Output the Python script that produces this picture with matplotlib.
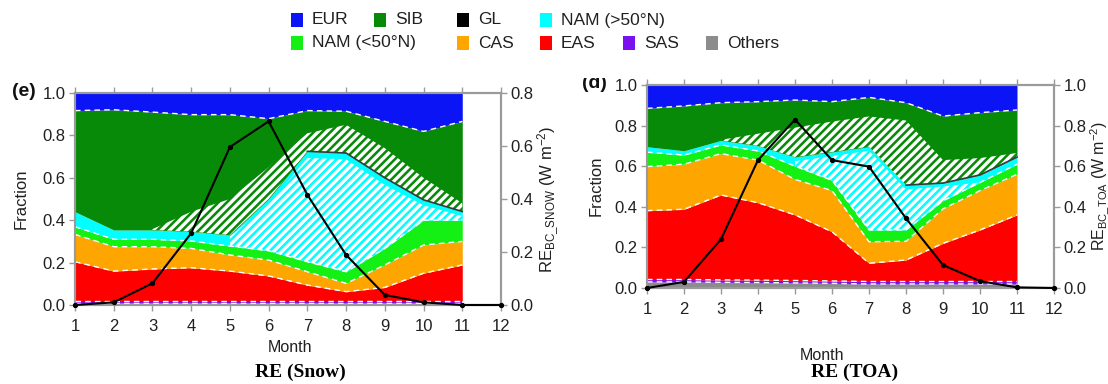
import numpy as np
import matplotlib
matplotlib.use("Agg")
import matplotlib.pyplot as plt
from matplotlib import font_manager
from matplotlib.patches import Rectangle

# ---------------- data ----------------
months = np.arange(1, 12)          # months with fractions
line_months = np.arange(1, 13)     # months with RE values
xticks = list(range(1, 13))

legend_labels = ['EUR', 'SIB', 'GL', 'NAM (>50°N)', 'NAM (<50°N)', 'CAS', 'EAS', 'SAS', 'Others']
legend_colors = ['#0a14f5', '#078a07', '#000000', '#00ffff', '#14f014', '#ffa500', '#ff0000', '#7a10f0', '#8c8c8c']

# stacking order (bottom -> top)
stack_names = ['Others', 'SAS', 'EAS', 'CAS', 'NAM (<50°N)', 'NAM (>50°N)', 'GL', 'SIB', 'EUR']

# Panel (e): RE (Snow)
snow_others = [0.01, 0.01, 0.01, 0.01, 0.01, 0.01, 0.01, 0.01, 0.01, 0.01, 0.01]
snow_sas    = [0.01, 0.01, 0.01, 0.01, 0.01, 0.01, 0.01, 0.01, 0.01, 0.01, 0.01]
snow_eas    = [0.184, 0.14, 0.15, 0.156, 0.14, 0.117, 0.074, 0.043, 0.063, 0.13, 0.169]
snow_cas    = [0.129, 0.115, 0.105, 0.091, 0.076, 0.075, 0.063, 0.039, 0.106, 0.133, 0.111]
snow_nam_s  = [0.036, 0.035, 0.035, 0.035, 0.042, 0.044, 0.047, 0.055, 0.078, 0.117, 0.10]
snow_nam_n  = [0.071, 0.044, 0.044, 0.044, 0.052, 0.244, 0.521, 0.56, 0.333, 0.096, 0.041]
snow_gl     = [0.0, 0.0, 0.0, 0.0, 0.0, 0.0, 0.0, 0.0, 0.0, 0.0, 0.0]
snow_sib    = [0.477, 0.567, 0.556, 0.552, 0.568, 0.379, 0.192, 0.197, 0.266, 0.323, 0.425]
snow_eur    = [0.083, 0.079, 0.09, 0.102, 0.102, 0.121, 0.083, 0.086, 0.134, 0.181, 0.134]
snow_nam_n_hatched = [np.nan, np.nan, np.nan, np.nan, 0.045, 0.22, 0.49, 0.53, 0.30, 0.07, 0.02]
snow_sib_hatched   = [np.nan, np.nan, 0.004, 0.094, 0.17, 0.15, 0.085, 0.133, 0.14, 0.104, 0.039]
snow_re = [0.0, 0.01, 0.082, 0.271, 0.596, 0.693, 0.416, 0.189, 0.038, 0.01, 0.0, 0.0]

# Panel (d): RE (TOA)
toa_others = [0.03, 0.03, 0.028, 0.027, 0.025, 0.023, 0.02, 0.02, 0.02, 0.02, 0.02]
toa_sas    = [0.012, 0.012, 0.012, 0.012, 0.012, 0.012, 0.012, 0.012, 0.012, 0.012, 0.012]
toa_eas    = [0.339, 0.346, 0.418, 0.381, 0.323, 0.242, 0.09, 0.106, 0.188, 0.254, 0.328]
toa_cas    = [0.217, 0.222, 0.204, 0.21, 0.175, 0.203, 0.106, 0.092, 0.17, 0.194, 0.20]
toa_nam_s  = [0.071, 0.045, 0.043, 0.045, 0.065, 0.05, 0.058, 0.056, 0.04, 0.04, 0.05]
toa_nam_n  = [0.027, 0.021, 0.022, 0.025, 0.045, 0.14, 0.41, 0.221, 0.087, 0.037, 0.035]
toa_gl     = [0.0, 0.0, 0.0, 0.0, 0.0, 0.0, 0.0, 0.0, 0.0, 0.0, 0.0]
toa_sib    = [0.189, 0.221, 0.186, 0.218, 0.281, 0.248, 0.243, 0.406, 0.33, 0.307, 0.232]
toa_eur    = [0.115, 0.103, 0.087, 0.082, 0.074, 0.082, 0.061, 0.087, 0.153, 0.136, 0.123]
toa_nam_n_hatched = [np.nan, np.nan, np.nan, np.nan, 0.025, 0.12, 0.39, 0.20, 0.07, 0.0, np.nan]
toa_sib_hatched   = [np.nan, np.nan, 0.003, 0.06, 0.145, 0.15, 0.149, 0.318, 0.113, 0.083, 0.02]
toa_re = [0.0, 0.03, 0.24, 0.63, 0.83, 0.63, 0.598, 0.343, 0.113, 0.034, 0.003, 0.0]

# ---------------- fonts ----------------
names = {f.name for f in font_manager.fontManager.ttflist}
narrow = 'Liberation Sans Narrow' if 'Liberation Sans Narrow' in names else 'Liberation Sans'
plt.rcParams['font.family'] = [narrow, 'DejaVu Sans']
plt.rcParams['mathtext.fontset'] = 'custom'
plt.rcParams['mathtext.rm'] = narrow
plt.rcParams['mathtext.it'] = narrow
plt.rcParams['hatch.linewidth'] = 2.4

W, H = 1108, 384
fig = plt.figure(figsize=(W / 100, H / 100), dpi=100)


def px(x, y):
    return x / W, 1 - y / H


def axrect(x0, y0, x1, y1):
    return [x0 / W, 1 - y1 / H, (x1 - x0) / W, (y1 - y0) / H]


color_of = dict(zip(legend_labels, legend_colors))
SPINE = '#9a9a9a'
TXT = '#202020'


def draw_panel(rect, layers, nam_n_hatch, sib_hatch, re, re_max, dark_from, fs):
    ax = fig.add_axes(rect)
    stack = np.array(layers, dtype=float)
    tops = np.cumsum(stack, axis=0)
    bots = np.vstack([np.zeros(len(months)), tops[:-1]])
    for name, lo, hi in zip(stack_names, bots, tops):
        ax.fill_between(months, lo, hi, color=color_of[name], lw=0, zorder=1)

    i_nn = stack_names.index('NAM (>50°N)')
    i_sib = stack_names.index('SIB')
    # hatched parts
    lo = bots[i_nn]
    hi = lo + np.array(nam_n_hatch, dtype=float)
    ax.fill_between(months, lo, hi, facecolor='none', edgecolor='white',
                    hatch='////', lw=0, zorder=2)
    lo = bots[i_sib]
    hi = lo + np.array(sib_hatch, dtype=float)
    ax.fill_between(months, lo, hi, facecolor='none', edgecolor='white',
                    hatch='////', lw=0, zorder=2)

    # white dashed boundaries
    for k in range(len(stack_names) - 1):
        if stack_names[k] in ('NAM (>50°N)', 'GL'):
            continue
        ax.plot(months, tops[k], color='white', lw=1.0, ls=(0, (4, 3)), zorder=3)
    # dark boundary on top of NAM (>50N)
    ax.plot(months[dark_from:], tops[i_nn][dark_from:], color='#3a3a3a', lw=1.2, zorder=3)

    ax.set_xlim(1, 12)
    ax.set_ylim(0, 1)
    ax.set_xticks(xticks)
    ax.set_yticks(np.arange(0, 1.01, 0.2))
    ax.set_yticklabels([f'{v:.1f}' for v in np.arange(0, 1.01, 0.2)])
    ax.tick_params(axis='both', direction='out', length=4, width=1, color=SPINE,
                   labelsize=fs, labelcolor=TXT, pad=3)
    ax.tick_params(axis='x', top=True, pad=6)
    for s in ax.spines.values():
        s.set_color(SPINE)
        s.set_linewidth(1.5)

    ax2 = ax.twinx()
    ax2.plot(line_months, re, color='black', lw=1.5, marker='o', ms=2.8, zorder=5, clip_on=False)
    ax2.set_ylim(0, re_max)
    ticks2 = np.round(np.arange(0, re_max + 1e-9, 0.2), 1)
    ax2.set_yticks(ticks2)
    ax2.set_yticklabels([f'{v:.1f}' for v in ticks2])
    ax2.tick_params(axis='y', direction='out', length=4, width=1, color=SPINE,
                    labelsize=fs, labelcolor=TXT, pad=3)
    for s in ax2.spines.values():
        s.set_color(SPINE)
        s.set_linewidth(1.5)
    return ax, ax2


snow_layers = [snow_others, snow_sas, snow_eas, snow_cas, snow_nam_s, snow_nam_n, snow_gl, snow_sib, snow_eur]
toa_layers = [toa_others, toa_sas, toa_eas, toa_cas, toa_nam_s, toa_nam_n, toa_gl, toa_sib, toa_eur]

draw_panel(axrect(75, 93, 501, 305), snow_layers, snow_nam_n_hatched, snow_sib_hatched,
           snow_re, 0.8, 6, 12)
draw_panel(axrect(647, 85, 1054, 288), toa_layers, toa_nam_n_hatched, toa_sib_hatched,
           toa_re, 1.0, 7, 12)

# axis labels
fig.text(*px(21, 199), 'Fraction', rotation=90, ha='center', va='center', fontsize=12, color=TXT)
fig.text(*px(548, 199), r'RE$_{\mathregular{BC\_SNOW}}$ (W m$^{\mathregular{-2}}$)', rotation=90,
         ha='center', va='center', fontsize=12, color=TXT)
fig.text(*px(596, 186), 'Fraction', rotation=90, ha='center', va='center', fontsize=12, color=TXT)
fig.text(*px(1100, 186), r'RE$_{\mathregular{BC\_TOA}}$ (W m$^{\mathregular{-2}}$)', rotation=90,
         ha='center', va='center', fontsize=11.5, color=TXT)
fig.text(*px(290, 347), 'Month', ha='center', va='center', fontsize=11.5, color=TXT)
fig.text(*px(822, 356), 'Month', ha='center', va='center', fontsize=11.5, color=TXT)

# panel letters (partially cropped at the top as in the source)
fig.text(*px(24, 91), '(e)', ha='center', va='center', fontsize=14, fontweight='bold',
         family='Liberation Sans', color='#111111')
fig.text(*px(594, 84), '(d)', ha='center', va='center', fontsize=14, fontweight='bold',
         family='Liberation Sans', color='#111111')
fig.patches.append(Rectangle(px(0, 83), 42 / W, 22 / H, transform=fig.transFigure,
                             facecolor='white', edgecolor='none', zorder=10))
fig.patches.append(Rectangle(px(572, 78), 44 / W, 22 / H, transform=fig.transFigure,
                             facecolor='white', edgecolor='none', zorder=10))

# titles
fig.text(*px(300, 372), 'RE (Snow)', ha='center', va='center', fontsize=14, fontweight='bold',
         family='Liberation Serif', color='black')
fig.text(*px(855, 372), 'RE (TOA)', ha='center', va='center', fontsize=14, fontweight='bold',
         family='Liberation Serif', color='black')

# legend (two rows)
col_x = [297, 380, 463, 546, 629, 712]
legend_slots = [(0, 0), (0, 1), (0, 2), (0, 3), (1, 0), (1, 2), (1, 3), (1, 4), (1, 5)]
row_y = [20, 43]
for lab, colr, (r, c) in zip(legend_labels, legend_colors, legend_slots):
    x = col_x[c]
    y = row_y[r]
    fig.patches.append(Rectangle(px(x - 6, y + 7), 12 / W, 14 / H, transform=fig.transFigure,
                                 facecolor=colr, edgecolor='none'))
    fig.text(*px(x + 15, y), lab, ha='left', va='center', fontsize=12.5, color=TXT)

fig.savefig('out.png', dpi=100)
